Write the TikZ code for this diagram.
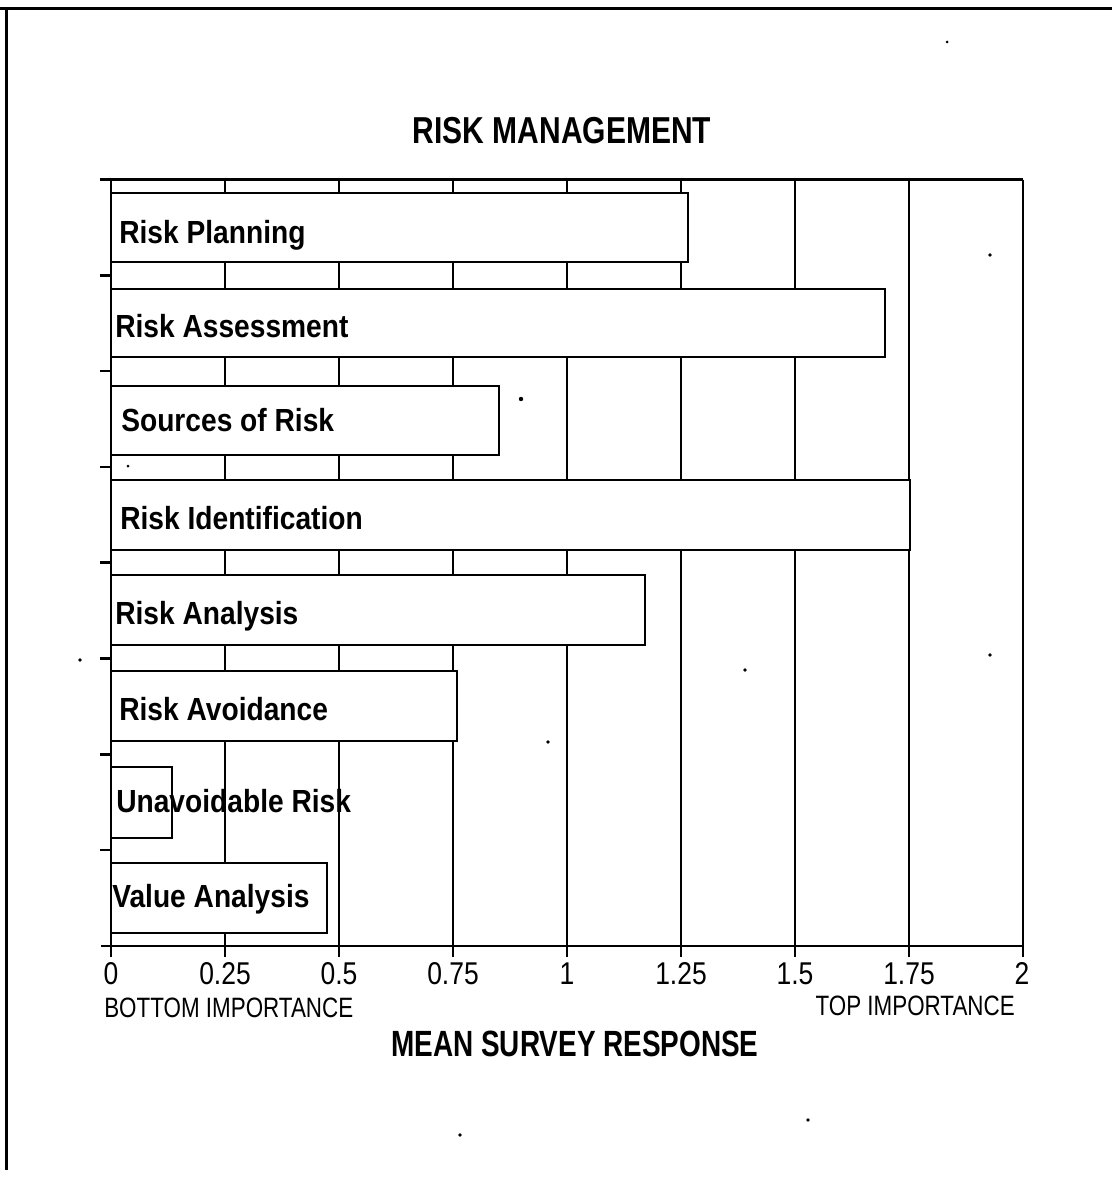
\documentclass[tikz,border=0pt]{standalone}
\usepackage{fontspec}
\setmainfont{Liberation Sans}
\newfontfamily\headfont[FakeStretch=0.80]{Liberation Sans}
\newfontfamily\xheadfont[FakeStretch=0.765]{Liberation Sans}
\newfontfamily\barfont[FakeStretch=0.88]{Liberation Sans}
\newfontfamily\tickfont[FakeStretch=0.84]{Liberation Sans}
\newfontfamily\notefont[FakeStretch=0.80]{Liberation Sans}
\begin{document}
\begin{tikzpicture}[x=1pt,y=-1pt,line width=2.6pt,
  barbox/.style={draw=black,fill=white,line width=2.6pt},
  barlabel/.style={anchor=base west,inner sep=0pt,font=\barfont\bfseries\fontsize{32}{36}\selectfont},
  ticklabel/.style={anchor=base,inner sep=0pt,font=\tickfont\fontsize{31.5}{36}\selectfont},
  notelabel/.style={inner sep=0pt,font=\notefont\fontsize{28}{32}\selectfont},
  headlabel/.style={anchor=base,inner sep=0pt,font=\headfont\bfseries\fontsize{37.5}{42}\selectfont},
  speck/.style={fill=black,draw=none}]
\useasboundingbox (0,0) rectangle (1112,1180);
% outer frame (top and left edges)
\draw[line width=3pt] (0,9) -- (1112,9);
\draw[line width=3pt] (6,9) -- (6,1170);
% title
\node[headlabel] (title) at (562,143) {RISK MANAGEMENT};
% vertical grid lines and x ticks
\foreach \i in {0,...,8} \draw (111+114*\i,179.5) -- (111+114*\i,957);
% top and bottom lines
\draw (100,179.5) -- (1023,179.5);
\draw (101,946) -- (1023,946);
% left ticks
\foreach \k in {1,...,7} \draw (100,179.5+95.8*\k) -- (111,179.5+95.8*\k);
% bars
\draw[barbox] (111,193) rectangle (688,262);
\draw[barbox] (111,289) rectangle (885,357);
\draw[barbox] (111,386) rectangle (499,455);
\draw[barbox] (111,480) rectangle (910,550);
\draw[barbox] (111,575) rectangle (645,645);
\draw[barbox] (111,671) rectangle (457,741);
\draw[barbox] (111,767) rectangle (172,838);
\draw[barbox] (111,863) rectangle (327,933);
% bar labels
\node[barlabel] (l1) at (118,243) {Risk Planning};
\node[barlabel] (l2) at (114,337) {Risk Assessment};
\node[barlabel] (l3) at (120,431) {Sources of Risk};
\node[barlabel] (l4) at (119,529) {Risk Identification};
\node[barlabel] (l5) at (114,624) {Risk Analysis};
\node[barlabel] (l6) at (118,720) {Risk Avoidance};
\node[barlabel] (l7) at (115,812) {Unavoidable Risk};
\node[barlabel] (l8) at (111,907) {Value Analysis};
% tick labels
\node[ticklabel] (t0) at (111,984) {0};
\node[ticklabel] (t1) at (225,984) {0.25};
\node[ticklabel] (t2) at (339,984) {0.5};
\node[ticklabel] (t3) at (453,984) {0.75};
\node[ticklabel] (t4) at (567,984) {1};
\node[ticklabel] (t5) at (681,984) {1.25};
\node[ticklabel] (t6) at (795,984) {1.5};
\node[ticklabel] (t7) at (909,984) {1.75};
\node[ticklabel] (t8) at (1022,984) {2};
% axis notes
\node[notelabel,anchor=base west] (bot) at (103,1017) {BOTTOM IMPORTANCE};
\node[notelabel,anchor=base east] (top) at (1016,1015) {TOP IMPORTANCE};
\node[headlabel,font=\xheadfont\bfseries\fontsize{36.5}{42}\selectfont] (xlab) at (575,1056) {MEAN SURVEY RESPONSE};
% scan specks
\fill[speck] (947,42) circle (1.5);
\fill[speck] (521,399) circle (2.2);
\fill[speck] (990,255) circle (1.8);
\fill[speck] (128,466) circle (1.5);
\fill[speck] (990,655) circle (1.8);
\fill[speck] (745,670) circle (1.8);
\fill[speck] (548,742) circle (1.8);
\fill[speck] (80,660) circle (1.8);
\fill[speck] (808,1120) circle (1.8);
\fill[speck] (460,1135) circle (1.8);
\end{tikzpicture}
\end{document}
